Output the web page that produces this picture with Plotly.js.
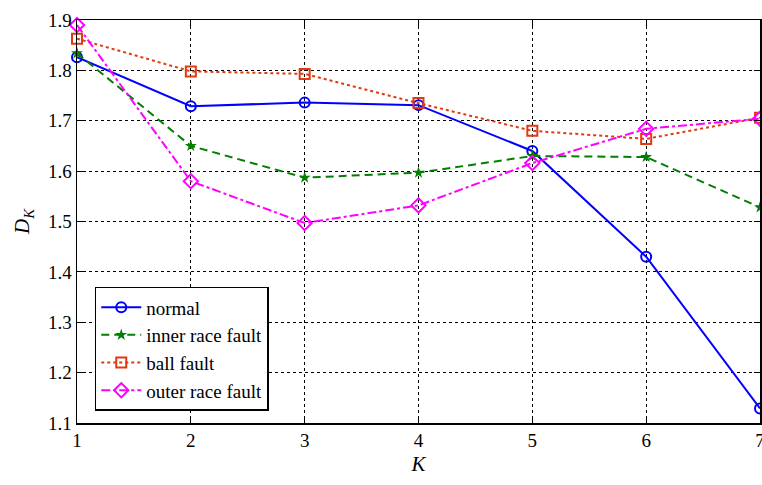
<!DOCTYPE html>
<html><head><meta charset="utf-8">
<script src="https://cdn.plot.ly/plotly-3.0.1.min.js"></script>
<style>body{margin:0;padding:0;background:#fff}#chart{width:762px;height:485px}</style>
</head><body><div id="chart"></div>
<script>
const K = [1, 2, 3, 4, 5, 6, 7];
const normal = [1.826, 1.729, 1.736, 1.731, 1.640, 1.430, 1.129];
const innerRace = [1.834, 1.650, 1.587, 1.597, 1.630, 1.628, 1.528];
const ballFault = [1.863, 1.798, 1.793, 1.735, 1.680, 1.664, 1.706];
const outerRace = [1.890, 1.580, 1.497, 1.532, 1.616, 1.684, 1.704];
const names = ['normal', 'inner race fault', 'ball fault', 'outer race fault'];

const SERIF = 'Liberation Serif';

const traces = [
  {x: K, y: normal, name: names[0], mode: 'lines+markers', cliponaxis: false,
   line: {color: '#0000ff', width: 2, dash: 'solid'},
   marker: {symbol: 'circle-open', size: 10, color: '#0000ff', line: {width: 2}}},
  {x: K, y: innerRace, name: names[1], mode: 'lines+markers', cliponaxis: false,
   line: {color: '#007f00', width: 2, dash: '8px,5px'},
   marker: {symbol: 'star', size: 9, color: '#007f00'}},
  {x: K, y: ballFault, name: names[2], mode: 'lines+markers', cliponaxis: false,
   line: {color: '#e03a10', width: 2, dash: 'dot'},
   marker: {symbol: 'square-open', size: 10, color: '#e03a10', line: {width: 2}}},
  {x: K, y: outerRace, name: names[3], mode: 'lines+markers', cliponaxis: false,
   line: {color: '#ff00ff', width: 2, dash: 'dashdot'},
   marker: {symbol: 'diamond-open', size: 11, color: '#ff00ff', line: {width: 2}}}
];

const axisCommon = {
  showline: true, mirror: 'ticks', linecolor: '#000', linewidth: 1.5,
  ticks: 'inside', ticklen: 6, tickcolor: '#000',
  showgrid: true, gridcolor: '#000', griddash: 'dot', gridwidth: 1,
  zeroline: false, ticklabeloverflow: 'allow',
  tickfont: {family: SERIF, size: 19, color: '#000'}
};

const layout = {
  width: 762, height: 485,
  margin: {l: 77, r: 2, t: 20, b: 62},
  paper_bgcolor: '#fff', plot_bgcolor: '#fff',
  font: {family: SERIF, color: '#000'},
  showlegend: true,
  legend: {x: 0.026, y: 0.338, xanchor: 'left', yanchor: 'top',
    bgcolor: '#fff', bordercolor: '#000', borderwidth: 1.5,
    font: {family: SERIF, size: 19, color: '#000'},
    tracegroupgap: 0, itemwidth: 40},
  xaxis: Object.assign({}, axisCommon, {
    range: [1, 7], dtick: 1, tick0: 1,
    title: {text: '<i>K</i>', font: {size: 21, family: SERIF}, standoff: 6}
  }),
  yaxis: Object.assign({}, axisCommon, {
    range: [1.1, 1.9], dtick: 0.1, tickformat: '.1f',
    title: {text: '<i>D</i><sub><i>K</i></sub>', font: {size: 21, family: SERIF}, standoff: 12}
  })
};

Plotly.newPlot('chart', traces, layout, {displayModeBar: false, staticPlot: true});
</script>
</body></html>
